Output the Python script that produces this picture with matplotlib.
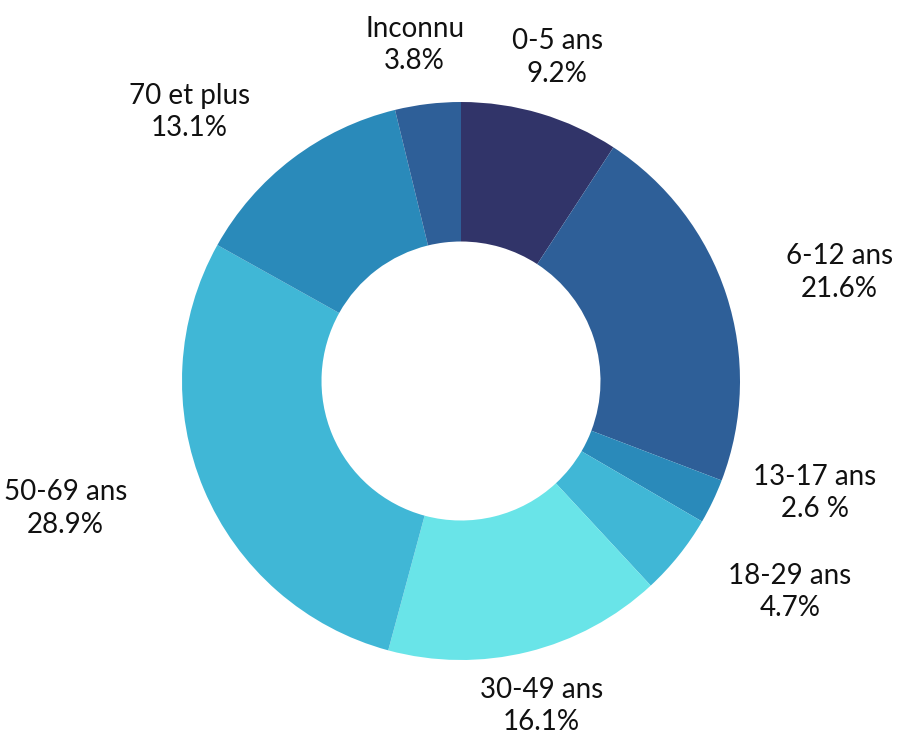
import numpy as np
import matplotlib.pyplot as plt

plt.rcParams['font.family'] = ['Lato', 'DejaVu Sans']

# data
groups = ['0-5 ans', '6-12 ans', '13-17 ans', '18-29 ans', '30-49 ans',
          '50-69 ans', '70 et plus', 'Inconnu']
shares = [9.2, 21.6, 2.6, 4.7, 16.1, 28.9, 13.1, 3.8]
pct_text = ['9.2%', '21.6%', '2.6 %', '4.7%', '16.1%', '28.9%', '13.1%', '3.8%']
colors = ['#313469', '#2e5f98', '#2a8aba', '#40b7d6', '#69e4e8',
          '#40b7d6', '#2a8aba', '#2e5f98']

# label placement: radius (in pie radii) and angular nudge (deg, clockwise)
label_r = [1.21, 1.41, 1.33, 1.40, 1.20, 1.49, 1.37, 1.215]
label_nudge = [0, 2, -8, -6, 0, 5, -8, -1]

fig = plt.figure(figsize=(8.98, 7.42), dpi=100)
ax = fig.add_axes([0, 0, 1, 1])
R_px = 279.0
cx, cy = 461.0, 381.0

wedges, _ = ax.pie(shares, colors=colors, startangle=90, counterclock=False,
                   radius=1.0, wedgeprops=dict(width=0.5, linewidth=0))

ax.set_xlim(-cx / R_px, (898 - cx) / R_px)
ax.set_ylim(-(742 - cy) / R_px, cy / R_px)
ax.set_aspect('equal')
ax.axis('off')

cum = np.cumsum([0] + shares)
for i, name in enumerate(groups):
    mid = (cum[i] + shares[i] / 2) / 100 * 360 + label_nudge[i]
    theta = np.deg2rad(90 - mid)
    x = label_r[i] * np.cos(theta)
    y = label_r[i] * np.sin(theta)
    ax.text(x, y, name + '\n' + pct_text[i], ha='center', va='center',
            fontsize=20, color='#111111', linespacing=1.3)

fig.savefig('out.png', dpi=100)
